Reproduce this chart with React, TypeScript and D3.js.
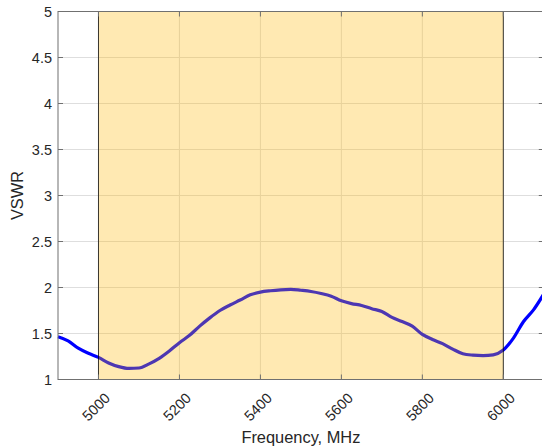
import React from "react";
import * as d3 from "d3";

const freqs = [4900,4925,4950,4975,5000,5025,5050,5075,5100,5125,5150,5175,5200,5225,5250,5275,5300,5325,5350,5375,5400,5425,5450,5475,5500,5525,5550,5575,5600,5625,5650,5675,5700,5725,5750,5775,5800,5825,5850,5875,5900,5925,5950,5975,6000,6025,6050,6075,6100];
const vswr = [1.465,1.42,1.34,1.285,1.24,1.18,1.14,1.12,1.125,1.17,1.23,1.31,1.40,1.48,1.58,1.67,1.75,1.81,1.864,1.92,1.95,1.965,1.975,1.98,1.97,1.957,1.935,1.905,1.855,1.825,1.805,1.77,1.74,1.675,1.63,1.58,1.49,1.435,1.39,1.33,1.28,1.265,1.26,1.268,1.32,1.45,1.63,1.76,1.93];
const xTicks = [5000,5200,5400,5600,5800,6000];
const yTicks = [1,1.5,2,2.5,3,3.5,4,4.5,5];
const band = [5000, 6000];
const xDomain = [4900, 6100];
const yDomain = [1, 5];

const W = 542, H = 447;
const L = 58, R = 543.8, T = 11.5, B = 379.5;
const font = "'Liberation Sans', Arial, Helvetica, sans-serif";
const axisColor = "#707070";
const textColor = "#262626";

export default function App() {
  const x = d3.scaleLinear().domain(xDomain).range([L, R]);
  const y = d3.scaleLinear().domain(yDomain).range([B, T]);
  const pts: [number, number][] = freqs.map((f, i) => [f, vswr[i]]);
  const line = d3.line<[number, number]>().x(d => x(d[0])).y(d => y(d[1])).curve(d3.curveMonotoneX);
  const tickLen = 5;
  return (
    <svg width={W} height={H} style={{ position: "absolute", left: 0, top: 0, background: "#fff" }} overflow="hidden">
      <rect x={0} y={0} width={W} height={H} fill="#fff" />
      {xTicks.map(t => (
        <line key={"gx" + t} x1={x(t)} x2={x(t)} y1={T} y2={B} stroke="#dedede" strokeWidth={1} />
      ))}
      {yTicks.map(t => (
        <line key={"gy" + t} x1={L} x2={R} y1={y(t)} y2={y(t)} stroke="#dedede" strokeWidth={1} />
      ))}
      <path d={line(pts) || ""} fill="none" stroke="#0000ff" strokeWidth={3.2} strokeLinejoin="round" />
      <rect x={x(band[0])} y={y(yDomain[1])} width={x(band[1]) - x(band[0])} height={y(yDomain[0]) - y(yDomain[1])}
        fill="rgb(255,182,0)" fillOpacity={0.3} stroke="#000" strokeOpacity={0.75} strokeWidth={1} />
      <rect x={L} y={T} width={R - L} height={B - T} fill="none" stroke={axisColor} strokeWidth={1} />
      {xTicks.map(t => (
        <g key={"tx" + t}>
          <line x1={x(t)} x2={x(t)} y1={B} y2={B - tickLen} stroke={axisColor} />
          <line x1={x(t)} x2={x(t)} y1={T} y2={T + tickLen} stroke={axisColor} />
          <text transform={`translate(${x(t) + 9},${B + 16}) rotate(-45)`} textAnchor="end" dy="0.35em"
            fontFamily={font} fontSize={14.5} fill={textColor}>{t}</text>
        </g>
      ))}
      {yTicks.map(t => (
        <g key={"ty" + t}>
          <line x1={L} x2={L + tickLen} y1={y(t)} y2={y(t)} stroke={axisColor} />
          <line x1={R} x2={R - tickLen} y1={y(t)} y2={y(t)} stroke={axisColor} />
          <text x={L - 6} y={y(t)} dy="0.35em" textAnchor="end" fontFamily={font} fontSize={14.5} fill={textColor}>{t}</text>
        </g>
      ))}
      <text x={(L + R) / 2} y={443} textAnchor="middle" fontFamily={font} fontSize={16.4} fill={textColor}>Frequency, MHz</text>
      <text transform={`translate(23,${(T + B) / 2}) rotate(-90)`} textAnchor="middle" fontFamily={font} fontSize={16.4} fill={textColor}>VSWR</text>
    </svg>
  );
}
